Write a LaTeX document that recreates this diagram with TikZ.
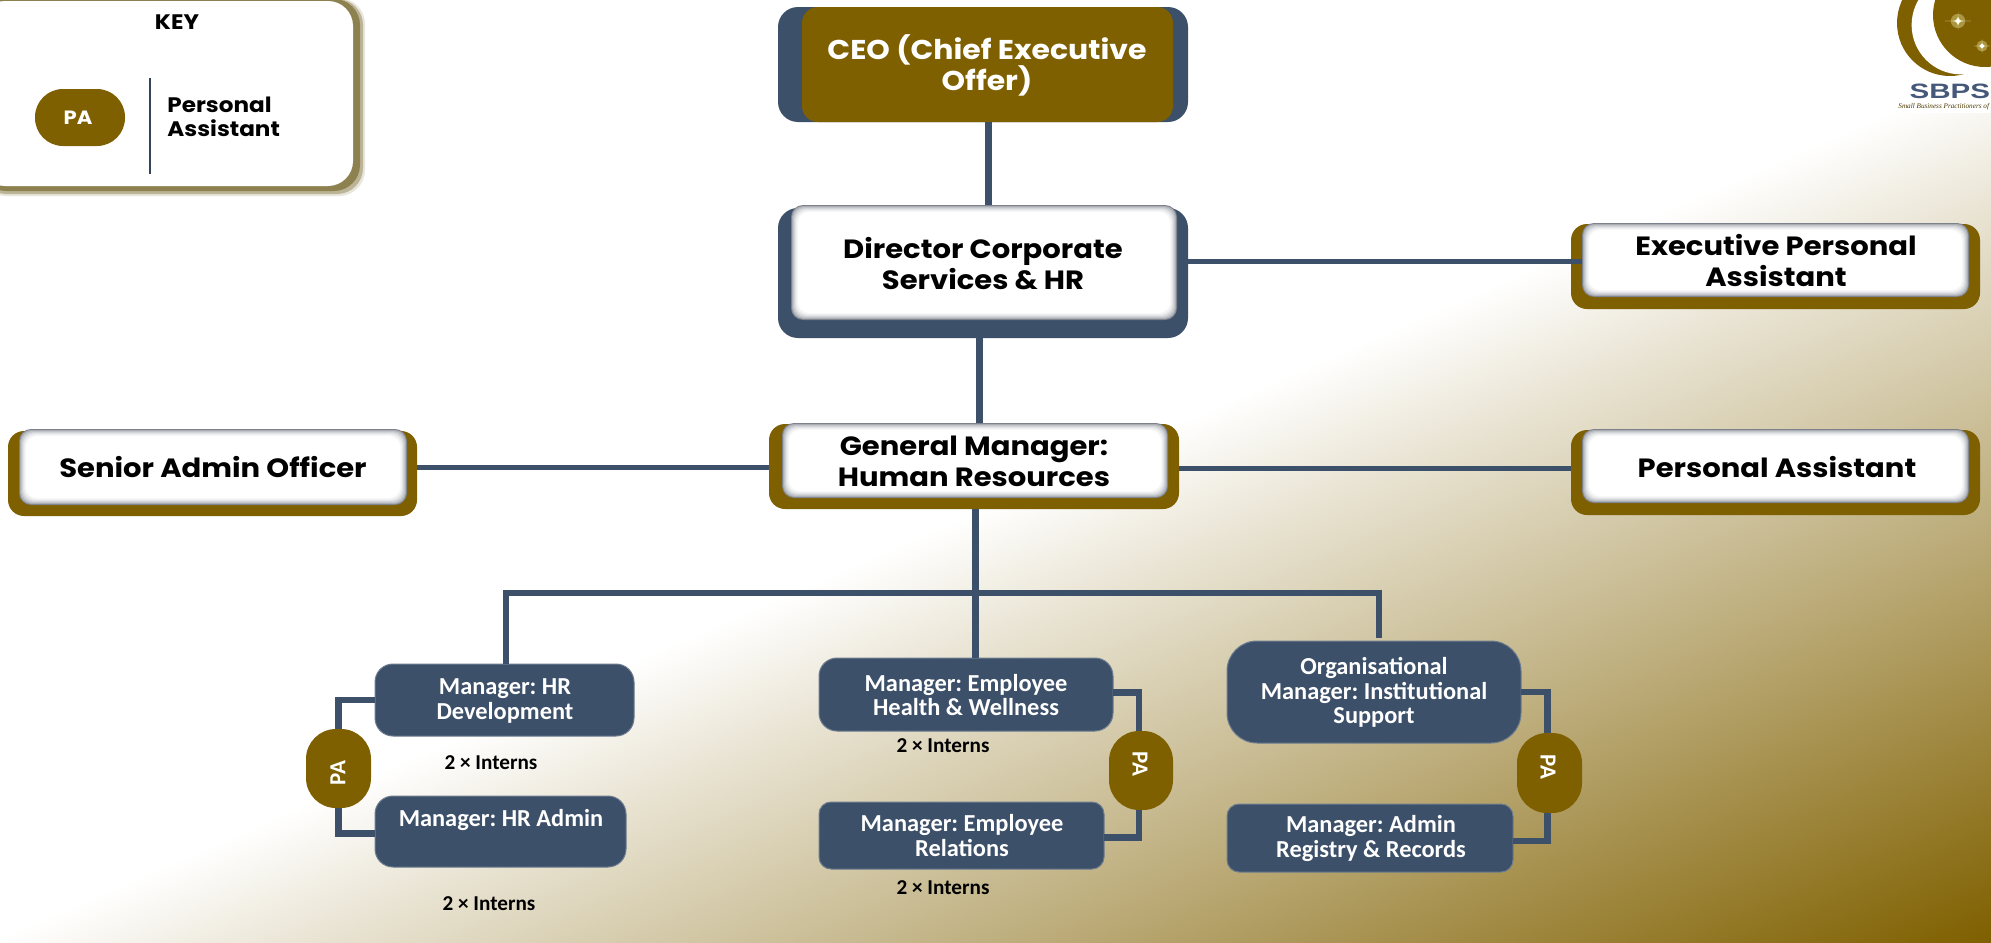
\documentclass[tikz,border=0pt]{standalone}
\usepackage{fontspec}
\setmainfont{Poppins}[FakeStretch=1.1]
\newfontfamily\lowerfont{Carlito}
\newfontfamily\logofont{Liberation Sans}
\newfontfamily\logoscript{Liberation Serif}
\definecolor{navy}{HTML}{3D5069}
\definecolor{brownb}{HTML}{7F6000}
\definecolor{olive}{HTML}{8E8150}
\definecolor{logonavy}{HTML}{46587A}
\definecolor{glossa}{HTML}{7C818C}
\pgfdeclareverticalshading{bgshade}{100bp}{color(0bp)=(brownb); color(27.3bp)=(brownb); color(48.6bp)=(brownb!52!white); color(64.8bp)=(brownb!17!white); color(71.7bp)=(white); color(100bp)=(white)}
\tikzset{
  base/.style={rectangle,inner sep=0pt,outer sep=0pt},
  navyouter/.style={base,fill=navy,rounded corners=10pt},
  brownouter/.style={base,fill=brownb,rounded corners=8pt},
  browncore/.style={base,fill=brownb,rounded corners=8pt},
  navybox/.style={base,fill=navy,draw=navy!75!white,line width=0.5pt,rounded corners=9pt},
  navyboxs/.style={base,fill=navy,draw=navy!75!white,line width=0.5pt,rounded corners=6pt},
  navyboxl/.style={base,fill=navy,draw=navy!75!white,line width=0.5pt,rounded corners=15pt},
  pill/.style={base,fill=brownb,rounded corners=15pt},
  keypill/.style={base,fill=brownb,rounded corners=14pt},
  glossnode/.style={base,fill=white,rounded corners=6pt},
  conn/.style={draw=navy,line width=3.2pt},
  connb/.style={draw=navy,line width=3.5pt},
  connt/.style={draw=navy,line width=2.5pt},
  toptext/.style={font=\fontsize{13.2}{15.5}\selectfont\bfseries,align=center,text=black,inner sep=0pt},
  ceotext/.style={font=\fontsize{13.6}{15.5}\selectfont\bfseries,align=center,text=white,inner sep=0pt},
  lowtext/.style={font=\lowerfont\fontsize{12.2}{12.2}\selectfont\bfseries,align=center,text=white,inner sep=0pt},
  interntext/.style={font=\lowerfont\fontsize{10.6}{12}\selectfont\bfseries,text=black,inner sep=0pt},
  patext/.style={font=\lowerfont\fontsize{11.5}{14}\selectfont\bfseries,text=white,inner sep=0pt},
  keytext/.style={font=\fontsize{10.5}{12}\selectfont\bfseries,text=black,inner sep=0pt,align=left},
}
\newcommand\boxat[7]{%
  \pgfmathsetmacro\bw{(#5-#3)*0.5}\pgfmathsetmacro\bh{(#6-#4)*0.5}%
  \node[#2,minimum width=\bw pt,minimum height=\bh pt] (#1) at ({(#3+#5)/2},{(#4+#6)/2}) {#7};}
\newcommand\glossat[5]{%
  \boxat{#1}{glossnode,fill=glossa}{#2}{#3}{#4}{#5}{}%
  \foreach \k/\pct in {1/35,2/52,3/66,4/78,5/87,6/94,7/100}{%
    \fill[white!\pct!glossa,rounded corners=5.5pt] ({#2+\k},{#3+\k}) rectangle ({#4-\k},{#5-\k});}}
\begin{document}
\frenchspacing
\begin{tikzpicture}[x=0.5pt,y=-0.5pt]
\useasboundingbox (0,0) rectangle (1991,942);
% background
\fill[white] (0,0) rectangle (1991,942);
\begin{scope}
\clip (0,0) rectangle (1991,942);
\shade[transform canvas={rotate=23.6},shading=bgshade] (-3000,800) rectangle (4000,1700);
\end{scope}
% logo
\fill[white] (1887,0) rectangle (1991,113);
\begin{scope}
\clip (1887,0) rectangle (1991,113);
\fill[brownb] (1950,23) circle (53);
\fill[white] (1961,25) circle (49.4);
\fill[brownb] (1985,15) circle (52);
\foreach \sx/\sy/\a/\b in {1958/21/13/9,1982/46/8/7}{
  \fill[yellow!25!white,opacity=.35] (\sx,\sy) circle ({\b*.8});
  \fill[white!85!yellow] ({\sx-\a},\sy) .. controls (\sx,\sy) .. (\sx,{\sy-\b}) .. controls (\sx,\sy) .. ({\sx+\a},\sy) .. controls (\sx,\sy) .. (\sx,{\sy+\b}) .. controls (\sx,\sy) .. cycle;
  \fill[white] (\sx,\sy) circle (2);
}
\end{scope}
\node[anchor=west,inner sep=0pt,text=logonavy,font=\logofont\fontsize{10.4}{12}\selectfont\bfseries,xscale=1.42] (logotext) at (1909,91) {SBPSA};
\node[anchor=west,inner sep=0pt,text=brownb!60!black,font=\logoscript\fontsize{3.6}{4}\selectfont\itshape] (logosub) at (1898,107) {Small Business Practitioners of SA};
% key
\fill[olive!20!white,rounded corners=13pt] (-20,-2) rectangle (365,196);
\fill[olive!60!white,rounded corners=13pt] (-20,-1) rectangle (363,194);
\fill[olive,rounded corners=13pt] (-20,-1) rectangle (360,191);
\boxat{keybox}{base,fill=white,rounded corners=12.5pt}{-20}{1}{353}{186}{}
\node[base,font=\fontsize{10.5}{12}\selectfont\bfseries,text=black] (keytitle) at (177,22) {KEY};
\boxat{keypa}{keypill}{35}{89}{125}{146}{}
\node[base,font=\fontsize{9.6}{12}\selectfont\bfseries,text=white] (keypatext) at (78,118) {PA};
\coordinate (keylinetop) at (150,78);
\coordinate (keylinebot) at (150,174);
\draw[draw=navy!85!black,line width=0.6pt] (keylinetop) -- (keylinebot);
\node[keytext,anchor=west] (keylabel) at (167,117) {Personal\\Assistant};
% outer boxes
\boxat{ceoouter}{navyouter}{778}{7}{1188}{122}{}
\boxat{ceocore}{browncore}{802}{7}{1173}{122}{}
\boxat{dirouter}{navyouter}{778}{208}{1188}{338}{}
\boxat{gmouter}{brownouter}{769}{424}{1179}{509}{}
\boxat{senouter}{brownouter}{8}{431}{417}{516}{}
\boxat{execouter}{brownouter}{1571}{224}{1980}{309}{}
\boxat{paouter}{brownouter}{1571}{430}{1980}{515}{}
% lower boxes
\boxat{hrdev}{navybox}{375}{664}{634}{736}{}
\boxat{hradmin}{navybox}{375}{796}{626}{867}{}
\boxat{health}{navybox}{819}{658}{1113}{731}{}
\boxat{relations}{navyboxs}{819}{802}{1104}{869}{}
\boxat{org}{navyboxl}{1227}{641}{1521}{743}{}
\boxat{regadmin}{navyboxs}{1227}{804}{1513}{872}{}
% connector end points
\coordinate (busl) at (506,593);
\coordinate (busr) at (1379,593);
\coordinate (hrdevtop) at (506,664);
\coordinate (orgtop) at (1379,638);
\coordinate (healthtop) at (975,658);
\coordinate (dirtop) at (988,208);
\coordinate (gmtop) at (979,424);
\coordinate (senend) at (417,467);
\coordinate (execend) at (1583,261);
\coordinate (dirend) at (1188,261);
\coordinate (gmleft) at (769,467);
\coordinate (gmright) at (1179,468);
\coordinate (paleft) at (1571,468);
% pills
\boxat{pal}{pill}{306}{729}{371}{808}{}
\boxat{pam}{pill}{1109}{731}{1173}{810}{}
\boxat{par}{pill}{1517}{733}{1582}{813}{}
% connectors
\draw[connb] ([xshift=2.5pt]ceoouter.south) -- (dirtop);
\draw[connb] (gmtop |- dirouter.south) -- (gmtop);
\draw[connb] ([xshift=0.5pt]gmouter.south) -- (healthtop);
\draw[conn] (hrdevtop) -- (busl) -- (busr) -- (orgtop);
\draw[connt] (dirend) -- (execend);
\draw[connt] (senend) -- (gmleft);
\draw[connt] (gmright) -- (paleft);
\draw[conn] (hrdev.west) -| (pal.north);
\draw[conn] ([yshift=-1pt]hradmin.west) -| (pal.south);
\draw[conn] ([yshift=1pt]health.east) -| ([xshift=-1pt]pam.north);
\draw[conn] ([yshift=-1pt]relations.east) -| ([xshift=-1pt]pam.south);
\draw[conn] (org.east) -| ([xshift=-1pt]par.north);
\draw[conn] ([yshift=-1.5pt]regadmin.east) -| ([xshift=-1pt]par.south);
% glossy inner boxes
\glossat{dirinner}{791}{205}{1177}{320}
\glossat{gminner}{782}{423}{1168}{498}
\glossat{seninner}{19}{429}{407}{505}
\glossat{execinner}{1582}{223}{1969}{297}
\glossat{painner}{1582}{429}{1969}{503}
% texts
\node[ceotext] (ceotxt) at (987,65) {CEO (Chief Executive\\Offer)};
\node[toptext] (dirtxt) at (983,264) {Director Corporate\\Services \& HR};
\node[toptext] (gmtxt) at (974,461) {General Manager:\\Human Resources};
\node[toptext] (sentxt) at (213,467) {Senior Admin Officer};
\node[toptext] (exectxt) at (1776,261) {Executive Personal\\Assistant};
\node[toptext] (patxt) at (1777,467) {Personal Assistant};
\node[lowtext] (hrdevtxt) at (505,701) {Manager: HR\\Development};
\node[lowtext] (hradmintxt) at (501,820) {Manager: HR Admin};
\node[lowtext] (healthtxt) at (966,695) {Manager: Employee\\Health \& Wellness};
\node[lowtext] (reltxt) at (962,835.5) {Manager: Employee\\Relations};
\node[lowtext] (orgtxt) at (1374,692.5) {Organisational\\Manager: Institutional\\Support};
\node[lowtext] (regtxt) at (1371,838.5) {Manager: Admin\\Registry \& Records};
\node[interntext] (int1) at (491,763) {2 × Interns};
\node[interntext] (int2) at (489,904) {2 × Interns};
\node[interntext] (int3) at (943,746) {2 × Interns};
\node[interntext] (int4) at (943,888) {2 × Interns};
\node[patext,rotate=90] (patl) at (338,773) {PA};
\node[patext,rotate=-90] (patm) at (1140,764) {PA};
\node[patext,rotate=-90] (patr) at (1548,767) {PA};
\end{tikzpicture}
\end{document}
